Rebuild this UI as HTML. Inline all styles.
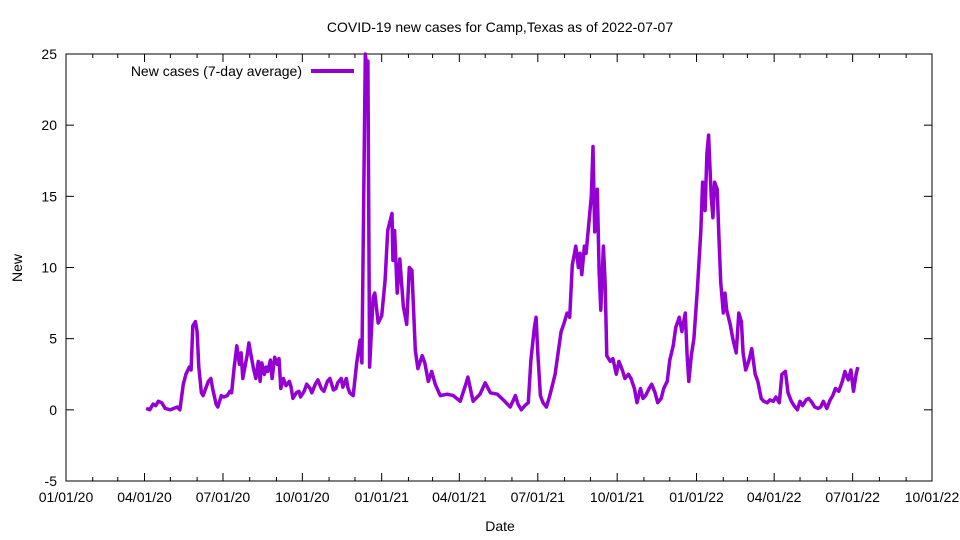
<!DOCTYPE html>
<html><head><meta charset="utf-8"><style>
body{margin:0;background:#fff}
svg{display:block;font-family:"Liberation Sans",Arial,sans-serif}
</style></head><body>
<svg id="chart" width="960" height="540" viewBox="0 0 960 540" xmlns="http://www.w3.org/2000/svg">
<text x="500" y="32" font-size="14" text-anchor="middle">COVID-19 new cases for Camp,Texas as of 2022-07-07</text>
<rect x="66" y="54" width="866" height="427" fill="none" stroke="#000" stroke-width="1"/>
<g id="yaxis"></g>
<g id="xaxis"></g>
<text x="22" y="268" font-size="14" text-anchor="middle" transform="rotate(-90 22 268)">New</text>
<text x="500" y="531" font-size="14" text-anchor="middle">Date</text>
<g>
<text x="302" y="76" font-size="14" text-anchor="end">New cases (7-day average)</text>
<line x1="311" y1="71" x2="354" y2="71" stroke="#9400d3" stroke-width="4"/>
</g>
<path id="series" fill="none" stroke="#9400d3" stroke-width="3.5" stroke-linejoin="round"/>
</svg>
<script>
const days=[93,97,101,104,107,111,115,121,125,129,132,136,139,143,145,147,150,152,154,157,159,162,165,168,170,174,176,180,183,187,190,192,195,198,201,203,205,208,210,212,214,217,220,223,225,227,230,232,234,237,239,242,245,247,249,252,255,259,261,263,267,270,272,276,279,283,285,289,292,296,299,303,306,310,313,315,319,321,325,327,329,333,337,341,343,347,349,350,352,356,358,362,366,370,373,378,379,381,384,387,391,395,398,401,405,408,413,416,420,424,428,434,442,449,457,463,466,472,480,486,492,500,507,515,521,524,528,532,536,539,543,545,547,550,553,557,560,563,567,570,574,577,581,584,587,589,591,594,596,598,601,603,606,609,611,613,616,618,620,623,625,627,631,634,638,641,645,648,652,655,659,662,666,669,672,676,679,683,686,690,693,697,700,704,707,711,714,718,720,722,725,728,732,734,736,738,741,743,745,748,750,752,755,757,759,762,764,766,770,773,777,780,783,785,788,792,795,799,802,806,809,813,816,820,823,827,830,834,837,841,844,848,851,854,858,861,865,868,872,875,878,882,886,889,892,896,900,903,907,910,913,916,918];
const values=[0.1,0.0,0.4,0.3,0.6,0.5,0.1,0.0,0.1,0.2,0.0,1.8,2.5,3.0,2.8,5.9,6.2,5.5,3.0,1.2,1.0,1.5,2.0,2.2,1.5,0.4,0.2,1.0,0.9,1.0,1.3,1.2,3.0,4.5,3.2,4.0,2.2,3.2,3.8,4.7,4.0,3.0,2.2,3.4,2.0,3.3,2.5,3.0,2.7,3.5,2.2,3.7,3.2,3.6,1.5,2.2,1.7,2.0,1.6,0.8,1.2,1.3,0.9,1.3,1.8,1.5,1.2,1.8,2.1,1.5,1.3,2.0,2.2,1.4,1.5,1.9,2.2,1.6,2.2,1.5,1.2,1.0,3.3,4.9,3.3,25,24,24.5,3.0,7.9,8.2,6.1,6.6,9.1,12.6,13.8,10.5,12.6,8.2,10.6,7.3,6.0,10.0,9.8,4.2,2.9,3.8,3.3,2.0,2.7,1.8,1.0,1.1,1.0,0.6,1.7,2.3,0.6,1.1,1.9,1.2,1.1,0.7,0.2,1.0,0.4,0.0,0.3,0.5,3.5,5.8,6.5,4.0,1.0,0.5,0.2,0.8,1.5,2.5,3.8,5.5,6.0,6.8,6.5,10.2,10.8,11.5,10.0,11.0,9.5,11.5,11.0,13.0,15.0,18.5,12.5,15.5,9.8,7.0,11.5,9.0,3.8,3.4,3.6,2.5,3.4,2.8,2.2,2.5,2.2,1.5,0.5,1.5,0.8,1.0,1.5,1.8,1.2,0.5,0.8,1.5,2.0,3.5,4.5,5.8,6.5,5.5,6.8,4.0,2.0,3.8,5.0,8.5,10.5,12.5,16.0,14.0,18.0,19.3,15.0,13.5,16.0,15.5,12.0,9.0,6.8,8.2,7.0,6.0,5.0,4.0,6.8,6.2,4.0,2.8,3.5,4.3,2.5,2.0,0.8,0.6,0.5,0.7,0.6,0.9,0.5,2.5,2.7,1.2,0.6,0.3,0.0,0.6,0.3,0.7,0.8,0.5,0.2,0.1,0.2,0.6,0.1,0.7,1.0,1.5,1.3,2.0,2.7,2.1,2.8,1.3,2.5,3.0];
const yTicks=[-5,0,5,10,15,20,25];
const xTickDays=[0,91,182,274,366,456,547,639,731,821,912,1004];
const xTickLabels=["01/01/20","04/01/20","07/01/20","10/01/20","01/01/21","04/01/21","07/01/21","10/01/21","01/01/22","04/01/22","07/01/22","10/01/22"];
const xMinorDays=[31,60,121,152,213,244,305,335,397,425,486,517,578,608,670,700,762,790,851,882,943,974];
const X0=66,X1=932,Y0=481,Y1=54,D0=0,D1=1004,V0=-5,V1=25;
const sx=d=>X0+(d-D0)/(D1-D0)*(X1-X0);
const sy=v=>Y0-(v-V0)/(V1-V0)*(Y0-Y1);
const NS="http://www.w3.org/2000/svg";
const ya=document.getElementById('yaxis'),xa=document.getElementById('xaxis');
function mk(tag,attrs,parent){const e=document.createElementNS(NS,tag);for(const k in attrs)e.setAttribute(k,attrs[k]);parent.appendChild(e);return e;}
yTicks.forEach(v=>{
 const y=sy(v);
 const t1=mk('line',{x1:X0,x2:X0+8,y1:y,y2:y,stroke:'#000'},ya);
 
 
 const t2=mk('line',{x1:X1-8,x2:X1,y1:y,y2:y,stroke:'#000'},ya);
 
 
 const tx=mk('text',{x:X0-9,y:y+5,'font-size':14,'text-anchor':'end'},ya);
 
 
 tx.textContent=v;
});
xTickDays.forEach((d,i)=>{
 const x=sx(d);
 const t1=mk('line',{x1:x,x2:x,y1:Y0,y2:Y0-8,stroke:'#000'},xa);
 
 
 const t2=mk('line',{x1:x,x2:x,y1:Y1,y2:Y1+8,stroke:'#000'},xa);
 
 
 const tx=mk('text',{x:x,y:502,'font-size':14,'text-anchor':'middle'},xa);
 
 
 tx.textContent=xTickLabels[i];
});
xMinorDays.forEach(d=>{
 const x=sx(d);
 const t1=mk('line',{x1:x,x2:x,y1:Y0,y2:Y0-4,stroke:'#000'},xa);
 
 
 const t2=mk('line',{x1:x,x2:x,y1:Y1,y2:Y1+4,stroke:'#000'},xa);
 
 
});
let dstr='';
days.forEach((d,i)=>{dstr+=(i?'L':'M')+sx(d).toFixed(1)+' '+sy(Math.min(values[i],V1)).toFixed(1);});
document.getElementById('series').setAttribute('d',dstr);
</script>
</body></html>
